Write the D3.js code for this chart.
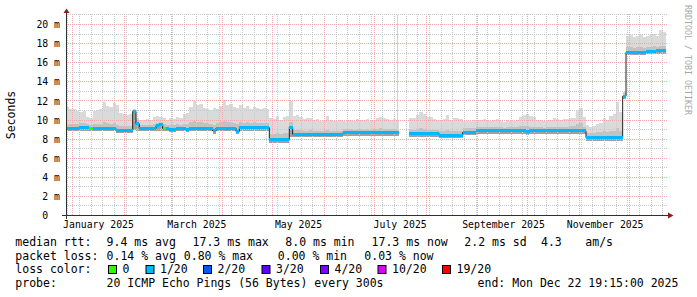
<!DOCTYPE html>
<html><head><meta charset="utf-8">
<script src="https://cdn.jsdelivr.net/npm/d3@7"></script>
<style>
html,body{margin:0;padding:0;background:#fff;}
svg{display:block;}
text{font-family:"DejaVu Sans Mono",monospace;}
</style></head><body>
<svg id="c" width="697" height="297"></svg>
<script>
// ---- data (2-day buckets, values in ms) ----
const startTime = new Date(2024, 11, 27, 19, 15);
const endTime = new Date(2025, 11, 22, 19, 15);
const bucketHours = 48;

const med = [
 9.1,9.1,9.1,9.1,9.2,9.2,9.2,9.1,9.1,9.1,9.1,9.1,9.1,9.1,9.1,8.95,8.95,8.95,8.95,8.95,
 10.9,9.6,9.1,9.1,9.1,9.1,9.1,9.4,9.5,9.1,9.1,9.05,9.05,9.1,9.1,9.1,9.05,9.1,9.1,9.1,
 9.1,9.1,9.1,9.1,8.85,9.15,9.15,9.15,9.15,9.15,9.15,8.8,9.2,9.2,9.2,9.2,9.2,9.2,9.2,9.2,
 9.2,7.95,7.95,7.95,7.95,7.95,7.95,9.25,8.5,8.5,8.5,8.5,8.5,8.5,8.5,8.5,8.5,8.5,8.5,8.5,
 8.5,8.5,8.5,8.65,8.65,8.65,8.65,8.65,8.65,8.65,8.65,8.65,8.65,8.65,8.65,8.65,8.65,8.65,8.65,8.65,
 null,null,null,8.55,8.55,8.55,8.55,8.55,8.55,8.55,8.55,8.55,8.4,8.4,8.4,8.4,8.4,8.4,8.4,8.7,
 8.7,8.7,8.7,8.85,8.85,8.85,8.85,8.85,8.85,8.85,8.85,8.85,8.85,8.85,8.85,8.85,8.85,8.85,8.75,8.85,
 8.85,8.85,8.85,8.85,8.85,8.85,8.85,8.85,8.85,8.85,8.85,8.85,8.85,8.85,8.85,8.85,8.15,8.15,8.15,8.15,
 8.15,8.15,8.15,8.15,8.15,8.15,8.15,12.5,17.1,17.1,17.1,17.1,17.1,17.1,17.2,17.2,17.2,17.3,17.3,17.3
];
const smokeHi = [
 11.4,11.2,11.1,10.9,10.8,10.9,10.3,10.2,10.9,11.0,11.1,11.9,11.5,11.4,11.8,11.6,10.7,10.6,10.5,10.6,
 11.2,10.2,10.0,10.0,10.1,10.0,10.3,10.4,10.3,10.2,10.0,10.2,10.1,10.3,10.2,10.6,10.7,11.4,12.0,11.6,
 11.7,11.3,11.2,11.0,11.3,11.2,11.5,12.1,11.6,11.7,11.4,11.3,11.6,11.3,11.5,11.2,11.4,11.3,11.2,11.3,
 11.2,10.2,10.1,10.4,10.0,10.3,10.4,12.0,10.4,10.5,10.3,10.1,10.2,10.2,10.0,10.1,9.9,10.0,10.4,10.0,
 9.9,9.9,10.0,9.9,10.0,10.0,9.9,10.1,10.0,10.0,10.1,9.9,10.0,10.2,10.3,10.2,10.1,10.0,10.1,10.0,
 null,null,null,10.2,10.2,10.5,10.8,10.6,10.3,10.3,10.1,10.0,10.0,10.1,10.5,10.0,10.2,10.2,10.1,9.9,
 9.9,9.9,10.0,10.0,10.0,10.1,10.0,9.9,10.0,10.1,9.9,9.8,10.0,9.9,9.9,10.0,10.3,10.5,10.6,10.4,
 10.3,10.0,10.0,9.9,10.0,10.0,10.2,10.1,10.0,10.1,10.1,10.2,10.2,10.9,11.3,10.3,9.5,9.3,9.4,9.6,
 9.7,10.2,10.0,10.4,10.6,11.9,10.8,12.9,18.8,18.9,18.7,18.8,18.9,18.7,18.8,18.9,19.0,18.8,19.4,19.2
];
const smokeMid = [
 9.6,9.6,9.6,9.6,9.7,9.7,9.6,9.5,9.6,9.6,9.6,9.8,9.7,9.6,9.7,9.5,9.4,9.4,9.4,9.4,
 11.0,9.9,9.5,9.5,9.5,9.5,9.6,9.7,9.8,9.6,9.5,9.5,9.5,9.6,9.5,9.6,9.6,9.8,9.9,9.8,
 9.8,9.7,9.7,9.6,9.5,9.7,9.8,9.9,9.8,9.8,9.7,9.6,9.8,9.7,9.8,9.7,9.8,9.7,9.7,9.7,
 9.7,8.5,8.5,8.6,8.5,8.6,8.6,9.8,9.0,9.0,9.0,8.9,8.9,9.0,8.9,8.9,8.9,8.9,9.0,8.9,
 8.9,8.9,8.9,9.1,9.1,9.1,9.0,9.1,9.1,9.0,9.1,9.0,9.1,9.1,9.2,9.1,9.1,9.1,9.1,9.0,
 null,null,null,9.0,9.0,9.1,9.2,9.1,9.0,9.0,9.0,9.0,8.9,8.9,9.0,8.9,8.9,8.9,8.9,9.2,
 9.2,9.2,9.2,9.3,9.3,9.3,9.3,9.3,9.3,9.3,9.3,9.2,9.3,9.3,9.3,9.3,9.4,9.4,9.4,9.3,
 9.3,9.3,9.3,9.2,9.3,9.3,9.3,9.3,9.3,9.3,9.3,9.4,9.4,9.6,9.7,9.3,8.6,8.6,8.6,8.7,
 8.7,8.8,8.7,8.8,8.9,9.2,8.9,12.8,17.6,17.6,17.5,17.6,17.6,17.5,17.6,17.6,17.7,17.6,17.7,17.7
];
const smokeLo = [
 8.8,8.8,8.8,8.8,8.9,8.9,8.9,8.8,8.8,8.8,8.8,8.8,8.8,8.8,8.8,8.65,8.65,8.6,8.65,8.65,
 9.0,8.8,8.8,8.8,8.8,8.8,8.8,8.8,8.85,8.8,8.8,8.75,8.75,8.8,8.8,8.8,8.75,8.8,8.8,8.8,
 8.8,8.8,8.8,8.8,8.55,8.85,8.85,8.85,8.85,8.85,8.85,8.5,8.9,8.9,8.9,8.9,8.9,8.9,8.9,8.9,
 8.9,7.6,7.6,7.6,7.6,7.6,7.6,8.2,8.2,8.2,8.2,8.2,8.2,8.2,8.2,8.2,8.2,8.2,8.2,8.2,
 8.2,8.2,8.2,8.35,8.35,8.35,8.35,8.35,8.35,8.35,8.35,8.35,8.35,8.35,8.35,8.35,8.35,8.35,8.35,8.35,
 null,null,null,8.25,8.25,8.25,8.25,8.25,8.25,8.25,8.25,8.25,8.1,8.1,8.1,8.1,8.1,8.1,8.1,8.4,
 8.4,8.4,8.4,8.55,8.55,8.55,8.55,8.55,8.55,8.55,8.55,8.55,8.55,8.55,8.55,8.55,8.55,8.55,8.45,8.55,
 8.55,8.55,8.55,8.55,8.55,8.55,8.55,8.55,8.55,8.55,8.55,8.55,8.55,8.55,8.55,8.55,7.85,7.85,7.85,7.85,
 7.85,7.85,7.85,7.85,7.85,7.85,7.85,12.2,16.8,16.8,16.8,16.8,16.8,16.8,16.9,16.9,16.9,16.9,16.9,16.9
];
// average lost pings (out of 20) per bucket
const lostPings = [
 0.02,0.03,0.02,0.03,0.02,0.03,0.02,0,0.03,0.02,0.03,0.02,0.03,0.04,0.03,0.02,0.03,0.03,0.02,0.03,
 0.16,0.04,0.03,0.02,0.03,0.02,0.03,0.03,0.02,0,0.03,0.02,0.03,0.02,0.03,0.02,0.03,0.02,0.03,0.02,
 0.03,0.02,0.03,0.02,0.03,0.02,0.03,0.02,0.03,0.02,0.03,0.04,0.03,0.02,0.03,0.02,0.03,0.02,0.03,0.02,
 0.03,0.04,0.03,0.03,0.02,0.03,0.03,0.05,0.03,0.02,0.03,0.02,0.03,0.02,0.03,0.02,0.03,0.02,0.03,0.02,
 0.03,0.02,0.03,0.02,0.03,0.02,0.03,0.02,0.03,0.02,0.03,0.02,0.03,0.02,0.03,0.02,0.03,0.02,0.03,0.02,
 null,null,null,0.03,0.02,0.03,0.02,0.03,0.02,0.03,0.02,0.03,0.02,0.03,0.02,0.03,0.02,0.03,0.02,0.03,
 0.02,0.03,0.02,0.03,0.02,0.03,0.02,0.03,0.02,0.03,0.02,0.03,0.02,0.03,0.02,0.03,0.02,0.03,0.04,0.03,
 0.02,0.03,0.02,0.03,0.02,0.03,0.02,0.03,0.02,0.03,0.02,0.03,0.02,0.03,0.02,0.03,0.03,0.02,0.03,0.02,
 0.03,0.02,0.03,0.02,0.03,0.02,0.03,0.05,0.03,0.02,0.03,0.02,0.03,0.02,0.03,0.02,0.03,0.02,0.03,0.03
];
const outliers = [{t: new Date(2025, 6, 14, 19, 15), from: 8.7, to: 21}];

const yTicks = [0, 2, 4, 6, 8, 10, 12, 14, 16, 18, 20];
const yTickLabels = ["0  ", "2 m", "4 m", "6 m", "8 m", "10 m", "12 m", "14 m", "16 m", "18 m", "20 m"];
const xTickLabels = ["January 2025", "March 2025", "May 2025", "July 2025", "September 2025", "November 2025"];

const lossThresholds = [0, 1, 2, 3, 4, 10, 19];
const lossLabels = ["0", "1/20", "2/20", "3/20", "4/20", "10/20", "19/20"];
const lossColors = ["#26ff00", "#00b8ff", "#0059ff", "#5e00ff", "#7e00ff", "#dd00ff", "#ff0000"];

const legendRtt = ["median rtt:", "9.4 ms avg", "17.3 ms max", "8.0 ms min", "17.3 ms now", "2.2 ms sd", "4.3", "am/s"];
const legendLoss = ["packet loss:", "0.14 % avg", "0.80 % max", "0.00 % min", "0.03 % now"];
const legendProbe = ["probe:", "20 ICMP Echo Pings (56 Bytes) every 300s", "end: Mon Dec 22 19:15:00 2025"];

// ---- drawing ----
const svg = d3.select("#c");
const x = d3.scaleTime().domain([startTime, endTime]).range([66, 666]);
const y = d3.scaleLinear().domain([0, 21]).range([215.5, 14.95]);

const data = med.map((m, i) => ({
  t0: d3.timeHour.offset(startTime, bucketHours * i),
  t1: d3.timeHour.offset(startTime, bucketHours * (i + 1)),
  med: m, hi: smokeHi[i], mid: smokeMid[i], lo: smokeLo[i], loss: lostPings[i]
}));

function stepPts(fa, fb) {
  return data.flatMap(d => [{t: d.t0, a: fa(d), b: fb(d)}, {t: d.t1, a: fa(d), b: fb(d)}]);
}
const area = d3.area().defined(p => p.a != null && p.b != null)
  .x(p => x(p.t)).y0(p => y(p.a)).y1(p => y(p.b));

const gSmoke = svg.append("g").attr("shape-rendering", "crispEdges");
gSmoke.append("path").attr("d", area(stepPts(d => d.lo, d => d.hi))).attr("fill", "#dadada");
gSmoke.append("path").attr("d", area(stepPts(d => d.med, d => d.mid))).attr("fill", "#c2c2c2");
gSmoke.append("path").attr("d", area(stepPts(d => d.lo, d => d.med))).attr("fill", "#a0a0a0");

// outlier smoke line
svg.append("g").selectAll("line").data(outliers).join("line")
  .attr("x1", d => Math.floor(x(d.t)) + 0.5).attr("x2", d => Math.floor(x(d.t)) + 0.5)
  .attr("y1", d => y(d.from)).attr("y2", d => y(d.to))
  .attr("stroke", "#cfcfcf").attr("stroke-width", 1);

// grid
const gGrid = svg.append("g");
const px = v => Math.floor(v) + 0.5;
const minorH = d3.range(1, 22).filter(v => v % 2 !== 0);
const majorH = d3.range(2, 21, 2);
const minorV = d3.timeSunday.range(startTime, endTime);
const majorV = d3.timeMonth.range(startTime, endTime);
gGrid.selectAll("line.mh").data(minorH).join("line").attr("class", "mh")
  .attr("x1", 66).attr("x2", 668).attr("y1", d => px(y(d))).attr("y2", d => px(y(d)))
  .attr("stroke", "#c8c8c8").attr("stroke-dasharray", "1,1");
gGrid.selectAll("line.mv").data(minorV).join("line").attr("class", "mv")
  .attr("x1", d => px(x(d))).attr("x2", d => px(x(d))).attr("y1", 215).attr("y2", 13)
  .attr("stroke", "#c8c8c8").attr("stroke-dasharray", "1,1");
gGrid.selectAll("line.Mh").data(majorH).join("line").attr("class", "Mh")
  .attr("x1", 66).attr("x2", 668).attr("y1", d => px(y(d))).attr("y2", d => px(y(d)))
  .attr("stroke", "#eeaaaa").attr("stroke-dasharray", "1,1");
gGrid.selectAll("line.Mv").data(majorV).join("line").attr("class", "Mv")
  .attr("x1", d => px(x(d))).attr("x2", d => px(x(d))).attr("y1", 215).attr("y2", 13)
  .attr("stroke", "#eeaaaa").attr("stroke-dasharray", "1,1");

// median line (black) + loss colored band
const line = d3.line().defined(p => p.a != null).x(p => x(p.t)).y(p => y(p.a));
svg.append("path").attr("d", line(stepPts(d => d.med, d => d.med)))
  .attr("fill", "none").attr("stroke", "#202020").attr("stroke-width", 1);

function lossColor(l) {
  if (l === 0) return lossColors[0];
  for (let k = 1; k < lossThresholds.length; k++) if (l <= lossThresholds[k]) return lossColors[k];
  return lossColors[lossColors.length - 1];
}
svg.append("g").attr("shape-rendering", "crispEdges")
  .selectAll("rect").data(data.filter(d => d.med != null)).join("rect")
  .attr("x", d => x(d.t0)).attr("width", d => x(d.t1) - x(d.t0))
  .attr("y", d => y(d.med) - 1.5).attr("height", 3)
  .attr("fill", d => lossColor(d.loss));

// axes
const yAxis = svg.append("g").attr("transform", "translate(60,0)")
  .call(d3.axisLeft(y).tickValues(yTicks).tickFormat((d, i) => yTickLabels[i]).tickSize(0).tickPadding(0));
yAxis.select(".domain").remove();
yAxis.selectAll("text").attr("xml:space", "preserve").style("white-space", "pre")
  .attr("font-size", "9.8px").attr("font-family", "DejaVu Sans Mono").attr("fill", "#000");

const parseMonth = d3.timeParse("%B %Y");
const labelDates = xTickLabels.map(s => d3.timeDay.offset(parseMonth(s), 15));
const xAxis = svg.append("g").attr("transform", "translate(0,215)")
  .call(d3.axisBottom(x).tickValues(labelDates).tickFormat((d, i) => xTickLabels[i]).tickSize(0).tickPadding(6));
xAxis.select(".domain").remove();
xAxis.selectAll("text").attr("font-size", "9.8px").attr("font-family", "DejaVu Sans Mono").attr("fill", "#000");

// axis lines + arrows
svg.append("line").attr("x1", 62).attr("x2", 670).attr("y1", 215.5).attr("y2", 215.5).attr("stroke", "#303030");
svg.append("line").attr("x1", 66.5).attr("x2", 66.5).attr("y1", 219).attr("y2", 12).attr("stroke", "#303030");
svg.append("path").attr("d", "M63.5,13 L69.5,13 L66.5,8.5 Z").attr("fill", "#8f1d1d");
svg.append("path").attr("d", "M668,212.5 L668,218.5 L673.5,215.5 Z").attr("fill", "#8f1d1d");

// y title
svg.append("text").attr("transform", "translate(15,115) rotate(-90)")
  .attr("text-anchor", "middle").attr("font-size", "11.5px").text("Seconds");

// watermark
svg.append("text").attr("transform", "translate(685,5) rotate(90)")
  .attr("font-size", "8.3px").attr("fill", "#a8a8a8").text("RRDTOOL / TOBI OETIKER");

// legend
const lg = svg.append("g").attr("font-size", "11.5px").attr("fill", "#000");
const rttX = [15.3, 106.6, 192.6, 285.3, 371.6, 464.3, 541, 585.3];
legendRtt.forEach((s, i) => lg.append("text").attr("x", rttX[i]).attr("y", 246).text(s));
const lossX = [15.3, 106.6, 183.8, 277.8, 364.3];
legendLoss.forEach((s, i) => lg.append("text").attr("x", lossX[i]).attr("y", 259.5).text(s));
lg.append("text").attr("x", 15.3).attr("y", 273.3).text("loss color:");
const boxX = [108, 145.5, 203, 261.5, 320, 377.5, 442];
lossLabels.forEach((s, i) => {
  lg.append("rect").attr("x", boxX[i] + 0.5).attr("y", 265.5).attr("width", 8).attr("height", 8)
    .attr("fill", lossColors[i]).attr("stroke", "#000").attr("stroke-width", 1);
  lg.append("text").attr("x", boxX[i] + 14.5).attr("y", 273.3).text(s);
});
const probeX = [15.3, 106.6, 477.6];
legendProbe.forEach((s, i) => lg.append("text").attr("x", probeX[i]).attr("y", 287).text(s));
</script></body></html>
